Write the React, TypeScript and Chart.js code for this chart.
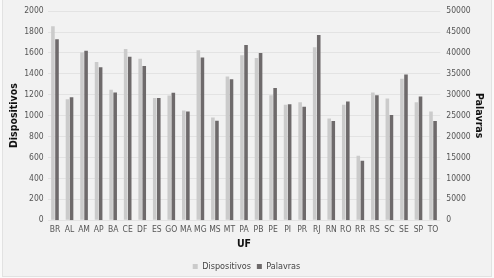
import React, { useEffect, useRef } from "react";
import { Chart, registerables } from "chart.js";

Chart.register(...registerables);

const categories = ["BR","AL","AM","AP","BA","CE","DF","ES","GO","MA","MG","MS","MT","PA","PB","PE","PI","PR","RJ","RN","RO","RR","RS","SC","SE","SP","TO"];
const dispositivos = [1855,1158,1604,1513,1248,1637,1544,1170,1193,1050,1625,983,1375,1577,1552,1196,1104,1128,1654,972,1104,616,1222,1164,1352,1128,1040];
const palavras = [43250,29400,40500,36550,30550,39100,36850,29250,30500,26000,38900,23800,33700,41900,40000,31600,27700,27100,44300,23700,28400,14200,29850,25150,34850,29600,23700];
const leftTicks = [0,200,400,600,800,1000,1200,1400,1600,1800,2000];
const rightTicks = [0,5000,10000,15000,20000,25000,30000,35000,40000,45000,50000];

const FONT = "'DejaVu Sans Condensed', 'Liberation Sans Narrow', 'Liberation Sans', sans-serif";

const bgPlugin = {
  id: "bgBox",
  beforeDraw(chart: any) {
    const ctx = chart.ctx;
    ctx.save();
    ctx.fillStyle = "#fafafa";
    ctx.fillRect(0, 0, chart.width, chart.height);
    ctx.fillStyle = "#f2f2f2";
    ctx.fillRect(2.5, 0, 489, 276.5);
    ctx.strokeStyle = "#e2e2e2";
    ctx.lineWidth = 1;
    ctx.strokeRect(2.5, -1, 489, 277.5);
    ctx.restore();
  },
};

export default function App() {
  const ref = useRef<HTMLCanvasElement>(null);
  useEffect(() => {
    document.body.style.margin = "0";
    const chart = new Chart(ref.current!, {
      type: "bar",
      data: {
        labels: categories,
        datasets: [
          {
            label: "Dispositivos",
            data: dispositivos,
            backgroundColor: "#cbcbcb",
            yAxisID: "y",
            categoryPercentage: 0.56,
            barPercentage: 0.88,
          },
          {
            label: "Palavras",
            data: palavras,
            backgroundColor: "#6e6a6b",
            yAxisID: "y1",
            categoryPercentage: 0.56,
            barPercentage: 0.88,
          },
        ],
      },
      options: {
        animation: false,
        responsive: false,
        devicePixelRatio: 1,
        layout: { padding: { left: 6, right: 7, top: 5.5, bottom: -3 } },
        plugins: {
          legend: {
            position: "bottom",
            labels: {
              font: { family: FONT, size: 9 },
              color: "#444",
              boxWidth: 5,
              boxHeight: 5,
              padding: 6,
            },
          },
          tooltip: { enabled: false },
        },
        scales: {
          x: {
            grid: { display: false, drawTicks: false },
            border: { display: false },
            ticks: { font: { family: FONT, size: 8.5 }, color: "#555", maxRotation: 0, autoSkip: false, padding: 4 },
            title: { display: true, text: "UF", font: { family: FONT, size: 10.5, weight: "bold" }, color: "#111", padding: { top: 0, bottom: 5 } },
          },
          y: {
            position: "left",
            min: 0,
            max: 2000,
            afterBuildTicks: (axis: any) => { axis.ticks = leftTicks.map((v) => ({ value: v })); },
            grid: { color: "#e3e3e3", drawTicks: false },
            border: { display: false },
            ticks: { font: { family: FONT, size: 8.5 }, color: "#555", padding: 4, callback: (v: any) => String(v) },
            title: { display: true, text: "Dispositivos", font: { family: FONT, size: 10.5, weight: "bold" }, color: "#111", padding: 2 },
            afterFit: (axis: any) => { axis.width = 41.7; },
          },
          y1: {
            position: "right",
            min: 0,
            max: 50000,
            afterBuildTicks: (axis: any) => { axis.ticks = rightTicks.map((v) => ({ value: v })); },
            grid: { display: false, drawTicks: false },
            border: { display: false },
            ticks: { font: { family: FONT, size: 8.5 }, color: "#555", padding: 6, callback: (v: any) => String(v) },
            title: { display: true, text: "Palavras", font: { family: FONT, size: 10.5, weight: "bold" }, color: "#111", padding: 2 },
            afterFit: (axis: any) => { axis.width = 46.7; },
          },
        },
      },
      plugins: [bgPlugin],
    } as any);
    return () => chart.destroy();
  }, []);
  return <canvas ref={ref} width={494} height={278} style={{ display: "block" }} />;
}
